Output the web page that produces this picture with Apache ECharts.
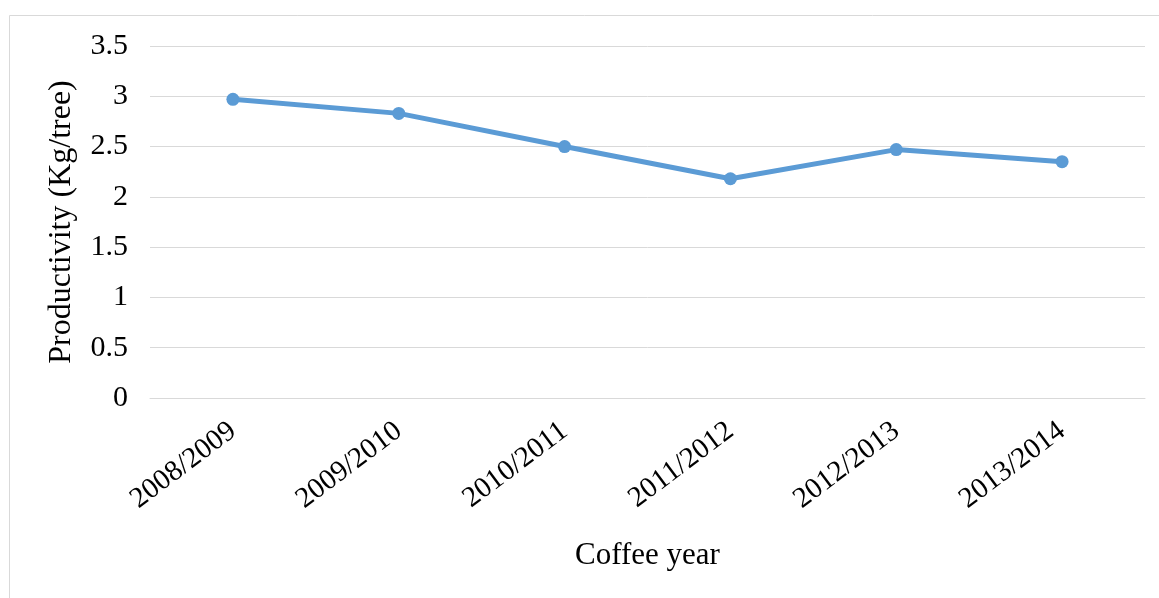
<!DOCTYPE html>
<html style="height: 100%">
<head>
<meta charset="utf-8">
<script src="https://cdn.jsdelivr.net/npm/echarts@6/dist/echarts.min.js"></script>
</head>
<body style="height: 100%; margin: 0; width: 100%; background: #fff;">
<div id="container" style="height: 598px; width: 1159px;"></div>
<script type="text/javascript">
var years = ['2008/2009', '2009/2010', '2010/2011', '2011/2012', '2012/2013', '2013/2014'];
var productivity = [2.97, 2.83, 2.50, 2.18, 2.47, 2.35];
var yTicks = { min: 0, max: 3.5, interval: 0.5 };

var myChart = echarts.init(document.getElementById('container'));
var font = '"Liberation Serif", "Times New Roman", serif';

var option = {
    backgroundColor: '#fff',
    animation: false,
    graphic: [{
        type: 'rect',
        left: 7, top: 13,
        shape: { width: 1170, height: 620 },
        style: { fill: 'none', stroke: '#d9d9d9', lineWidth: 1 }
    }],
    grid: { left: 150, right: 14, top: 46, bottom: 200 },
    xAxis: {
        type: 'category',
        data: years,
        name: 'Coffee year',
        nameLocation: 'middle',
        nameGap: 142,
        nameTextStyle: { fontFamily: font, fontSize: 31, color: '#000' },
        axisLine: { lineStyle: { color: '#d9d9d9' } },
        axisTick: { show: false },
        axisLabel: { rotate: 37, fontFamily: font, fontSize: 29, color: '#000', margin: 30 }
    },
    yAxis: {
        type: 'value',
        min: yTicks.min, max: yTicks.max, interval: yTicks.interval,
        name: 'Productivity (Kg/tree)',
        nameLocation: 'middle',
        nameRotate: 90,
        nameGap: 72,
        nameTextStyle: { fontFamily: font, fontSize: 32, color: '#000' },
        axisLine: { show: false },
        axisTick: { show: false },
        splitLine: { lineStyle: { color: '#d9d9d9' } },
        axisLabel: { fontFamily: font, fontSize: 30, color: '#000', margin: 22 }
    },
    series: [{
        type: 'line',
        data: productivity,
        symbol: 'circle',
        symbolSize: 13,
        lineStyle: { color: '#5b9bd5', width: 5 },
        itemStyle: { color: '#5b9bd5' }
    }]
};
myChart.setOption(option);
</script>
</body>
</html>
